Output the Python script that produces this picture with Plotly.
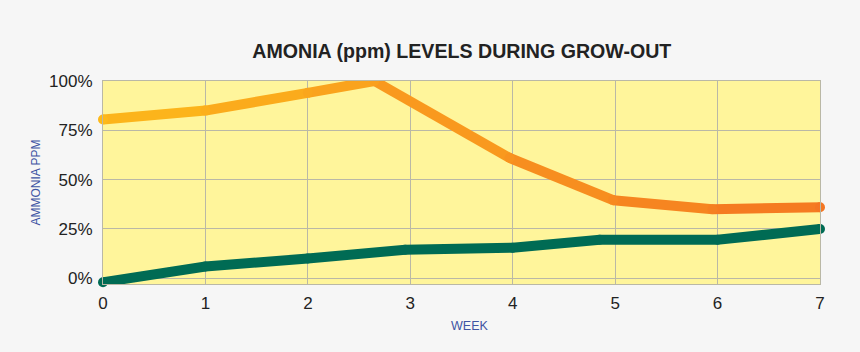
import plotly.graph_objects as go

# Data
orange_weeks = [0, 1, 2, 2.65, 3.97, 4.98, 5.95, 7]
orange_ppm = [80.5, 85, 94, 100, 61, 39.6, 35, 36]
green_weeks = [0, 1, 2, 2.95, 4, 4.85, 6, 7]
green_ppm = [-2, 6, 10, 14.5, 15.5, 19.5, 19.5, 25]
x_ticks = [0, 1, 2, 3, 4, 5, 6, 7]
y_ticks = [0, 25, 50, 75, 100]
y_tick_labels = ["0%", "25%", "50%", "75%", "100%"]

ORANGE_START = (253, 185, 26)
ORANGE_END = (244, 118, 34)
GREEN = "#006B54"
LW = 10


def lerp_color(t):
    c = [round(a + (b - a) * t) for a, b in zip(ORANGE_START, ORANGE_END)]
    return f"rgb({c[0]},{c[1]},{c[2]})"


fig = go.Figure()

# Orange line drawn segment by segment to mimic its colour gradient
xmax = max(orange_weeks)
for i in range(len(orange_weeks) - 1):
    t = (orange_weeks[i] + orange_weeks[i + 1]) / 2 / xmax
    fig.add_trace(go.Scatter(
        x=orange_weeks[i:i + 2], y=orange_ppm[i:i + 2], mode="lines",
        line=dict(color=lerp_color(t), width=LW), hoverinfo="skip",
        showlegend=False))
# round joins (clipped to the plot area)
fig.add_trace(go.Scatter(
    x=orange_weeks[1:-1], y=orange_ppm[1:-1], mode="markers", cliponaxis=True,
    marker=dict(size=LW, color=[lerp_color(w / xmax) for w in orange_weeks[1:-1]],
                line=dict(width=0)),
    showlegend=False, hoverinfo="skip"))
# round caps at the ends (may overhang the plot area)
ends = [0, len(orange_weeks) - 1]
fig.add_trace(go.Scatter(
    x=[orange_weeks[i] for i in ends], y=[orange_ppm[i] for i in ends],
    mode="markers", cliponaxis=False,
    marker=dict(size=LW, color=[lerp_color(orange_weeks[i] / xmax) for i in ends],
                line=dict(width=0)),
    showlegend=False, hoverinfo="skip"))

fig.add_trace(go.Scatter(
    x=green_weeks, y=green_ppm, mode="lines+markers", cliponaxis=False,
    line=dict(color=GREEN, width=LW),
    marker=dict(size=LW, color=GREEN, line=dict(width=0)),
    showlegend=False, hoverinfo="skip"))

fig.update_layout(
    width=860, height=352,
    margin=dict(l=103, r=40, t=81, b=68),
    paper_bgcolor="#F6F6F6",
    plot_bgcolor="#FFF59B",
    font=dict(family="Liberation Sans, Arial, sans-serif", color="#222222"),
    title=dict(text="<b>AMONIA (ppm) LEVELS DURING GROW-OUT</b>",
               x=0.537, xanchor="center", y=0.855, yanchor="middle",
               font=dict(size=19.6, color="#222222")),
    annotations=[dict(text="WEEK", xref="x", yref="paper", x=3.58, y=-0.205,
                      xanchor="center", yanchor="middle", showarrow=False,
                      font=dict(size=12.5, color="#3F54A3"))],
)
fig.update_xaxes(
    range=[0, 7], tickvals=x_ticks, ticktext=[str(v) for v in x_ticks],
    showgrid=True, gridcolor="#BAB8A6", gridwidth=1,
    showline=True, linecolor="#BAB8A6", linewidth=1, mirror=True,
    zeroline=False, ticks="", ticklen=0, ticklabelstandoff=4,
    tickfont=dict(size=17, color="#222222"),
)
fig.update_yaxes(
    range=[-2.9, 100], tickvals=y_ticks, ticktext=y_tick_labels,
    showgrid=True, gridcolor="#BAB8A6", gridwidth=1,
    showline=True, linecolor="#BAB8A6", linewidth=1, mirror=True,
    zeroline=False, ticks="", ticklen=0, ticklabelstandoff=6,
    tickfont=dict(size=17, color="#222222"),
    title=dict(text="AMMONIA PPM", standoff=5,
               font=dict(size=12, color="#3F54A3")),
)

fig.write_html("out.html")
